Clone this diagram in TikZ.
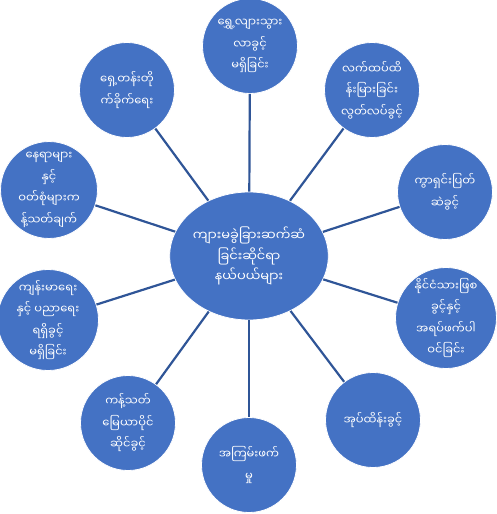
\documentclass[tikz,border=0pt]{standalone}
\usepackage{fontspec}
\usetikzlibrary{shapes.geometric}
\newfontfamily\my[Script=Myanmar]{Noto Sans Myanmar UI}
\definecolor{bubblue}{HTML}{4472C4}
\definecolor{linkblue}{HTML}{2F5597}
\begin{document}
\begin{tikzpicture}[x=1pt,y=-1pt,
  bub/.style={circle, fill=bubblue, draw=white, line width=0.8pt, minimum size=95pt, inner sep=0pt, text=white, align=center, font=\my\fontsize{11.5}{21.5}\selectfont},
  hub/.style={ellipse, fill=bubblue, draw=white, line width=0.8pt, minimum width=152pt, minimum height=128pt, inner sep=0pt, text=white, align=center, font=\my\fontsize{13}{20.5}\selectfont},
  link/.style={draw=linkblue, line width=2.2pt}]
\useasboundingbox (0,0) rectangle (496,514);
\node[hub] (c) at (249,256) {ကျားမခွဲခြားဆက်ဆံ\\ခြင်းဆိုင်ရာ\\နယ်ပယ်များ};
\node[bub] (n1) at (250,46) {ရွှေ့လျားသွား\\လာခွင့်\\မရှိခြင်း};
\node[bub] (n2) at (372,90) {လက်ထပ်ထိ\\န်းမြားခြင်း\\လွတ်လပ်ခွင့်};
\node[bub] (n3) at (445,192) {ကွာရှင်းပြတ်\\ဆဲခွင့်};
\node[bub] (n4) at (446,318) {နိုင်ငံသားဖြစ\\ခွင့်နှင့်\\အရပ်ဖက်ပါ\\ဝင်ခြင်း};
\node[bub] (n5) at (373,420) {အုပ်ထိန်းခွင့်};
\node[bub] (n6) at (249,465) {အကြမ်းဖက်\\မှု};
\node[bub] (n7) at (128,423) {ကန့်သတ်\\မြေယာပိုင်\\ဆိုင်ခွင့်};
\node[bub] (n8) at (48,320) {ကျန်းမာရေး\\နှင့် ပညာရေး\\ရရှိခွင့်\\မရှိခြင်း};
\node[bub] (n9) at (49,190) {နေရာများ\\နှင့်\\ဝတ်စုံများက\\န့်သတ်ချက်};
\node[bub] (n10) at (127,90) {ရှေ့တန်းတို\\က်ခိုက်ရေး};
\foreach \n in {n1,n2,n3,n4,n5,n6,n7,n8,n9,n10}
  \draw[link] (c) -- (\n);
\end{tikzpicture}
\end{document}
